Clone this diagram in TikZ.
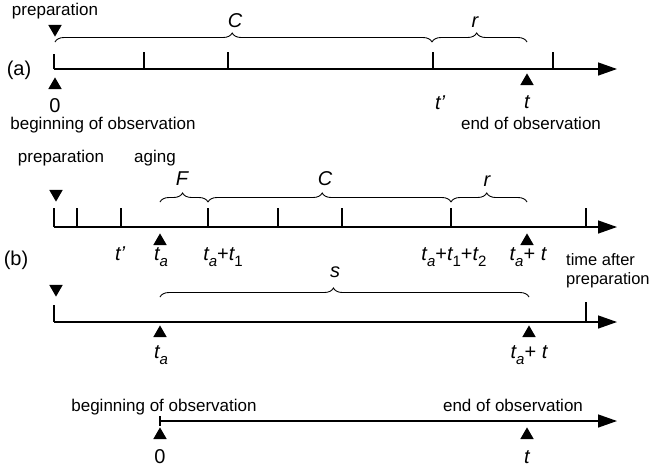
\documentclass[tikz,border=0pt]{standalone}
\usepackage{fontspec}
\setmainfont{Liberation Sans}
\usetikzlibrary{arrows.meta}
\usetikzlibrary{shapes.geometric}
\usetikzlibrary{decorations.pathreplacing}
\newcommand\sub[1]{\raisebox{-0.3em}{\fontsize{15}{15}\selectfont #1}}
\tikzset{
	axis/.style={line width=1.4pt, -{Triangle[length=19pt,width=13pt]}},
	tick/.style={line width=1.2pt},
	upmark/.style={regular polygon, regular polygon sides=3, fill, inner sep=0pt, minimum size=15.5pt, anchor=corner 1},
	downmark/.style={upmark, shape border rotate=180},
	span/.style={decorate, decoration={brace, amplitude=9pt, aspect=0.47}, line width=0.9pt},
	txt/.style={inner sep=0pt, anchor=base, font=\fontsize{17}{20}\selectfont},
	lbl/.style={inner sep=0pt, anchor=base, font=\fontsize{20}{24}\selectfont\itshape},
}

\begin{document}
\begin{tikzpicture}[x=1pt, y=-1pt]
\useasboundingbox (0,0) rectangle (651,472);
% (a)
\node[lbl, font=\fontsize{20}{24}\selectfont] (a-name) at (19,75) {(a)};
\coordinate (a-start) at (54,69);
\coordinate (a-end) at (617,69);
\draw[axis] (a-start) -- (a-end);
\draw[tick] (a-start) -- ++(0,-15);
\foreach \x in {144,228,433,553} {
	\draw[tick] (\x,69) -- ++(0,-17);
	};
\node[downmark] (a-prep) at (55,37) {};
\node[upmark] (a-zero) at (55,77) {};
\node[upmark] (a-t) at (527,73) {};
\coordinate (a-c0) at (55,42);
\coordinate (a-c1) at (432,42);
\coordinate (a-c2) at (527,42);
\draw[span] (a-c0) -- (a-c1);
\draw[span] (a-c1) -- (a-c2);
\node[lbl] (a-C) at (235,27) {C};
\node[lbl] (a-r) at (475,27) {r};
\node[txt] (a-preptxt) at (55,15) {preparation};
\node[lbl, font=\fontsize{20}{24}\selectfont] (a-0) at (55,112) {0};
\node[lbl] (a-tp) at (440,109) {t'};
\node[lbl] (a-tt) at (527,108) {t};
\node[txt] (a-begin) at (103,129) {beginning of observation};
\node[txt] (a-endobs) at (531,129) {end of observation};
% (b), time after preparation
\node[lbl, font=\fontsize{20}{24}\selectfont] (b-name) at (16,265) {(b)};
\node[txt] (b-preptxt) at (61,162) {preparation};
\node[txt] (b-aging) at (155,162) {aging};
\coordinate (b-start) at (54,227);
\coordinate (b-end) at (617,227);
\draw[axis] (b-start) -- (b-end);
\foreach \x in {54,77,121,208,278,342,451,586} {
	\draw[tick] (\x,227) -- ++(0,-19);
	};
\node[downmark] (b-prep) at (56,202) {};
\node[upmark] (b-ta) at (160,233) {};
\node[upmark] (b-tat) at (527,233) {};
\coordinate (b-f0) at (160,202);
\coordinate (b-f1) at (208,202);
\coordinate (b-f2) at (451,202);
\coordinate (b-f3) at (527,202);
\draw[span] (b-f0) -- (b-f1);
\draw[span] (b-f1) -- (b-f2);
\draw[span] (b-f2) -- (b-f3);
\node[lbl] (b-F) at (182,185) {F};
\node[lbl] (b-C) at (325,185) {C};
\node[lbl] (b-r) at (487,186) {r};
\node[lbl] (b-tp) at (120,260) {t'};
\node[lbl] (b-tal) at (161,260) {t\sub{a}};
\node[lbl] (b-t1) at (223,260) {t\sub{a}\upshape+\itshape t\sub{\upshape 1}};
\node[lbl] (b-t2) at (454,260) {t\sub{a}\upshape+\itshape t\sub{\upshape 1}\upshape+\itshape t\sub{\upshape 2}};
\node[lbl] (b-tatl) at (528,260) {t\sub{a}\upshape+ \itshape t};
\node[txt, anchor=north west, align=left, font=\fontsize{16.5}{19}\selectfont] (b-time) at (566,253) {time after\\preparation};
% (b), time after aging
\coordinate (c-start) at (54,322);
\coordinate (c-end) at (617,322);
\draw[axis] (c-start) -- (c-end);
\draw[tick] (c-start) -- ++(0,-17);
\draw[tick] (586,322) -- ++(0,-20);
\node[downmark] (c-prep) at (56,297) {};
\node[upmark] (c-ta) at (160,325) {};
\node[upmark] (c-tat) at (529,325) {};
\coordinate (c-s0) at (160,297);
\coordinate (c-s1) at (529,297);
\draw[span] (c-s0) -- (c-s1);
\node[lbl] (c-s) at (335,277) {s};
\node[lbl] (c-tal) at (161,358) {t\sub{a}};
\node[lbl] (c-tatl) at (529,358) {t\sub{a}\upshape+ \itshape t};
% observation
\coordinate (d-start) at (160,421);
\coordinate (d-end) at (617,421);
\draw[axis] (d-start) -- (d-end);
\draw[tick] (160,416) -- (160,426);
\node[upmark] (d-zero) at (160,427) {};
\node[upmark] (d-t) at (527,427) {};
\node[txt] (d-begin) at (164,411) {beginning of observation};
\node[txt] (d-endobs) at (513,411) {end of observation};
\node[lbl, font=\fontsize{20}{24}\selectfont] (d-0) at (160,463) {0};
\node[lbl] (d-tt) at (527,463) {t};
\end{tikzpicture}
\end{document}
